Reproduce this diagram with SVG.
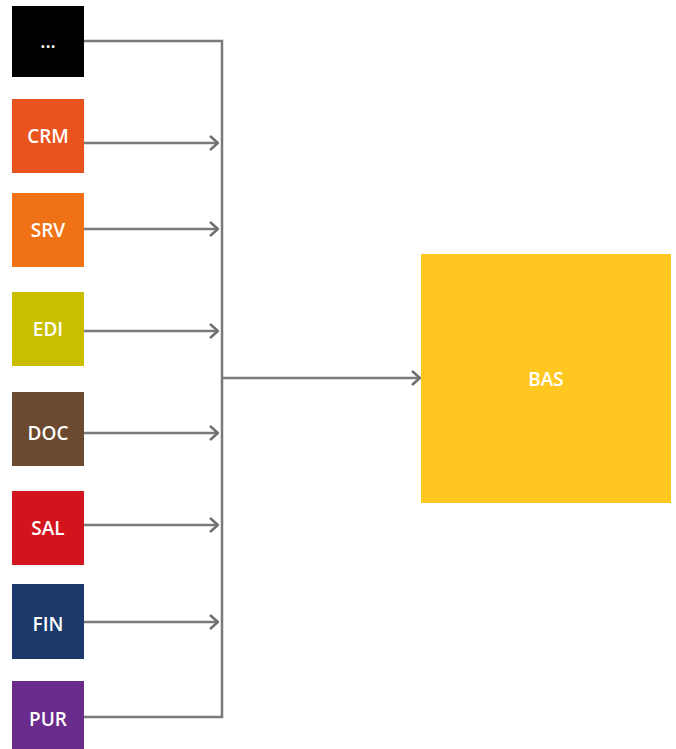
<svg xmlns="http://www.w3.org/2000/svg" width="676" height="749" viewBox="0 0 676 749">
<style>
.lbl{font-family:"Open Sans","Liberation Sans",sans-serif;font-size:19px;font-weight:600;fill:#fff;text-anchor:middle;dominant-baseline:central}
.ln{fill:none;stroke:#7a7a7a;stroke-width:2.5}
</style>
<defs>
<marker id="chev" viewBox="0 0 10 16" refX="9" refY="8" markerWidth="10" markerHeight="16" markerUnits="userSpaceOnUse" orient="auto">
<path d="M1,1 L9,8 L1,15" fill="none" stroke="#6f6f6f" stroke-width="2.5"/>
</marker>
</defs>
<rect width="676" height="749" fill="#fff"/>
<g id="connectors">
<path class="ln" d="M84,41 H222 V717 H84"/>
<path class="ln" d="M84,143 H218" marker-end="url(#chev)"/>
<path class="ln" d="M84,229 H218" marker-end="url(#chev)"/>
<path class="ln" d="M84,331 H218" marker-end="url(#chev)"/>
<path class="ln" d="M84,433 H218" marker-end="url(#chev)"/>
<path class="ln" d="M84,525 H218" marker-end="url(#chev)"/>
<path class="ln" d="M84,622 H218" marker-end="url(#chev)"/>
<path class="ln" d="M222,378 H420" marker-end="url(#chev)"/>
</g>
<g id="node-more"><rect x="12" y="6" width="72" height="71" fill="#000"/><text class="lbl" x="48" y="41">...</text></g>
<g id="node-CRM"><rect x="12" y="99" width="72" height="74" fill="#e9531e"/><text class="lbl" x="48" y="136">CRM</text></g>
<g id="node-SRV"><rect x="12" y="193" width="72" height="74" fill="#f07216"/><text class="lbl" x="48" y="230">SRV</text></g>
<g id="node-EDI"><rect x="12" y="292" width="72" height="74" fill="#c9bf00"/><text class="lbl" x="48" y="329">EDI</text></g>
<g id="node-DOC"><rect x="12" y="392" width="72" height="74" fill="#6b4a30"/><text class="lbl" x="48" y="433">DOC</text></g>
<g id="node-SAL"><rect x="12" y="491" width="72" height="74" fill="#d3141c"/><text class="lbl" x="48" y="528">SAL</text></g>
<g id="node-FIN"><rect x="12" y="584" width="72" height="75" fill="#1b3a6b"/><text class="lbl" x="48" y="624">FIN</text></g>
<g id="node-PUR"><rect x="12" y="681" width="72" height="68" fill="#6a2c8c"/><text class="lbl" x="48" y="719">PUR</text></g>
<g id="node-BAS"><rect x="421" y="254" width="250" height="249" fill="#ffc71f"/><text class="lbl" x="546" y="379">BAS</text></g>
</svg>
